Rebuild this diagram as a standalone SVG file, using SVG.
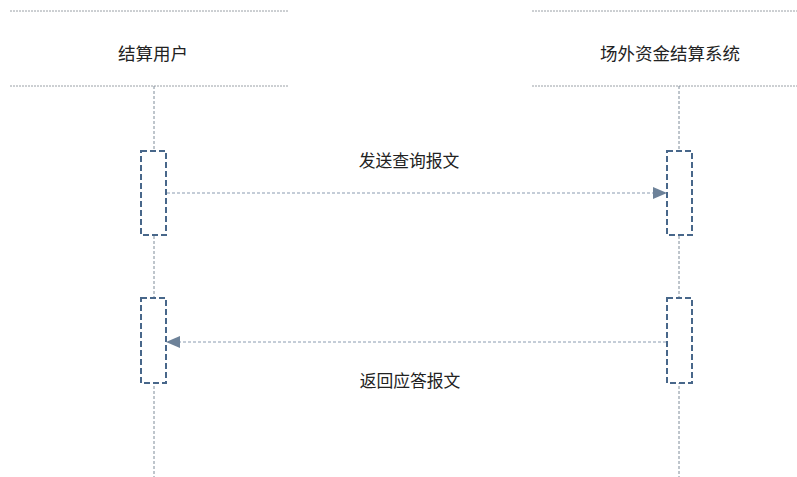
<svg xmlns="http://www.w3.org/2000/svg" width="797" height="477" viewBox="0 0 797 477">
<style>
.hdr{stroke:#9aa0a6;stroke-width:1;stroke-dasharray:2 1;fill:none}
.life{stroke:#7f8c99;stroke-width:1;stroke-dasharray:3 2;fill:none}
.act{fill:#ffffff;stroke:#48678a;stroke-width:2;stroke-dasharray:6 3}
.msg{stroke:#8a9bb0;stroke-width:1;stroke-dasharray:3 2;fill:none}
text{font-family:"Liberation Sans","Noto Sans CJK SC",sans-serif;fill:#222;text-anchor:middle}
.h{font-size:17.5px}
.m{font-size:16.8px}
</style>
<defs>
<marker id="ah" markerWidth="14" markerHeight="12" refX="13" refY="6" orient="auto" markerUnits="userSpaceOnUse">
<path d="M0,0 L14,6 L0,12 Z" fill="#6d8299"/>
</marker>
</defs>
<rect width="797" height="477" fill="#ffffff"/>
<g id="user">
<line class="hdr" x1="10" y1="11" x2="288" y2="11"/>
<line class="hdr" x1="10" y1="86" x2="288" y2="86"/>
<text class="h" x="153" y="60">结算用户</text>
<line class="life" x1="154" y1="86" x2="154" y2="477"/>
<rect class="act" x="141" y="151" width="25" height="84"/>
<rect class="act" x="141" y="298" width="25" height="85"/>
</g>
<g id="system">
<line class="hdr" x1="532" y1="11" x2="797" y2="11"/>
<line class="hdr" x1="532" y1="86" x2="797" y2="86"/>
<text class="h" x="670" y="60">场外资金结算系统</text>
<line class="life" x1="679" y1="86" x2="679" y2="477"/>
<rect class="act" x="667" y="151" width="25" height="84"/>
<rect class="act" x="667" y="298" width="25" height="85"/>
</g>
<g id="connectors">
<line class="msg" x1="167" y1="193" x2="666" y2="193" marker-end="url(#ah)"/>
<text class="m" x="409" y="167">发送查询报文</text>
<line class="msg" x1="666" y1="342" x2="167" y2="342" marker-end="url(#ah)"/>
<text class="m" x="410" y="387">返回应答报文</text>
</g>
</svg>
